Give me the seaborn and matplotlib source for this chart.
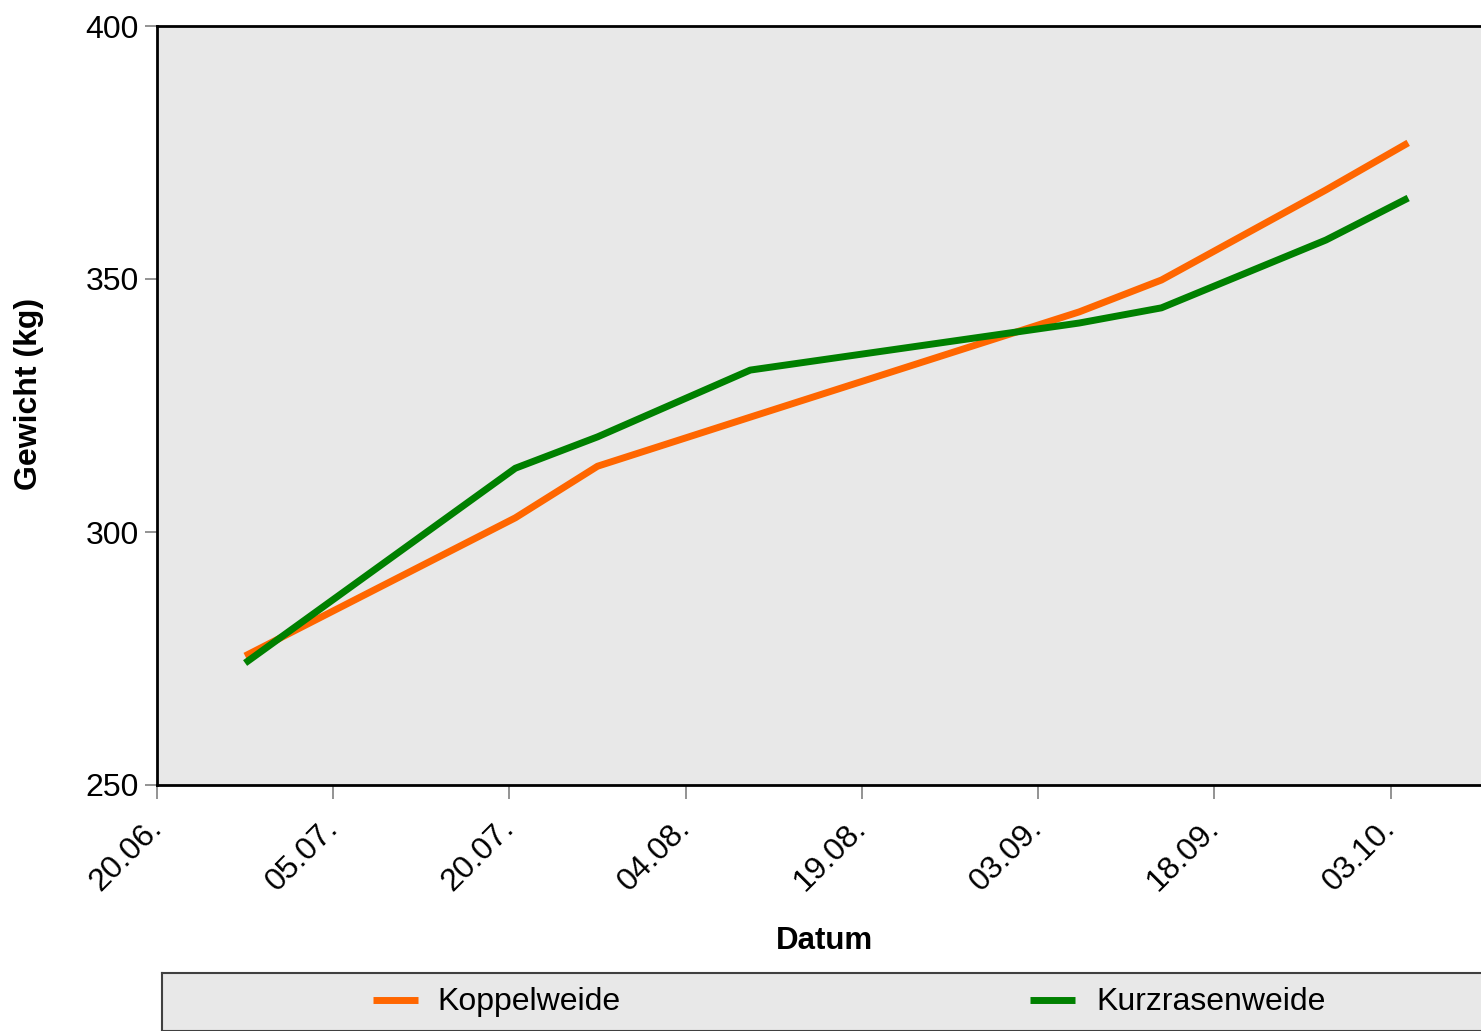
## weight gain chart: Koppelweide vs Kurzrasenweide

import matplotlib.pyplot as plt
import seaborn as sns
import pandas as pd

    #----------------------------------------------------
    # DATA
    #----------------------------------------------------

datum = ["2005-06-27", "2005-07-20", "2005-07-27", "2005-08-09",
         "2005-09-06", "2005-09-13", "2005-09-27", "2005-10-04"]
koppelweide = [275.5, 302.8, 313.0, 322.7, 343.5, 349.8, 367.6, 376.9]
kurzrasenweide = [274.1, 312.6, 318.8, 332.0, 341.3, 344.3, 357.7, 366.0]
tick_labels = ["20.06.", "05.07.", "20.07.", "04.08.",
               "19.08.", "03.09.", "18.09.", "03.10."]

    #----------------------------------------------------
    # PLOT
    #----------------------------------------------------

def main():
    sns.set_style("white")
    plt.rcParams['font.family'] = ['Liberation Sans', 'DejaVu Sans']
    plt.rcParams['text.color'] = 'black'
    plt.rcParams['axes.labelcolor'] = 'black'
    plt.rcParams['xtick.color'] = 'black'
    plt.rcParams['ytick.color'] = 'black'

    dates = pd.to_datetime(datum)
    df = pd.DataFrame({
        "Datum": list(dates) * 2,
        "Gewicht": koppelweide + kurzrasenweide,
        "Gruppe": ["Koppelweide"] * len(datum) + ["Kurzrasenweide"] * len(datum),
    })

    my_fig = plt.figure(figsize=(14.81, 10.31), dpi=100)
    ax = my_fig.add_axes([157/1481, 1 - 785/1031, 1324/1481, 759/1031])
    ax.set_facecolor("#E8E8E8")

    sns.lineplot(data=df, x="Datum", y="Gewicht", hue="Gruppe",
                 palette={"Koppelweide": "#FF6600", "Kurzrasenweide": "#008000"},
                 linewidth=5, ax=ax, legend=False, solid_capstyle="butt")

    # excel date axis: ticks at day start, points at mid day
    half = pd.Timedelta(hours=12)
    start = pd.Timestamp("2005-06-20")
    ticks = [start + pd.Timedelta(days=15 * i) - half for i in range(len(tick_labels))]
    ax.set_xticks(ticks)
    ax.set_xticklabels(tick_labels, rotation=45, ha="right", va="center",
                       rotation_mode="anchor", fontsize=23)
    ax.set_xlim(start - half, start + pd.Timedelta(days=112.2))

    ax.set_ylim(250, 400)
    ax.set_yticks([250, 300, 350, 400])
    ax.tick_params(axis="y", labelsize=23, length=9, width=1.2, color="#808080",
                   direction="out", left=True, pad=4)
    ax.tick_params(axis="x", length=10, width=1.2, color="#808080",
                   direction="out", bottom=True, pad=18)

    for side in ["left", "top", "bottom"]:
        ax.spines[side].set_visible(True)
        ax.spines[side].set_color("black")
        ax.spines[side].set_linewidth(2)
    ax.spines["right"].set_visible(False)

    ax.set_xlabel("Datum", fontsize=22.5, fontweight="bold")
    ax.set_ylabel("Gewicht (kg)", fontsize=23, fontweight="bold")
    ax.xaxis.set_label_coords((824 - 157) / 1324, -(926 - 785) / 759)
    ax.yaxis.set_label_coords(-(157 - 44) / 1324, (785 - 394) / 759)

    # legend box at the bottom
    leg_ax = my_fig.add_axes([162/1481, 0, 1330/1481, 58/1031])
    leg_ax.set_facecolor("#E8E8E8")
    leg_ax.set_xticks([])
    leg_ax.set_yticks([])
    for side in leg_ax.spines.values():
        side.set_color("#404040")
        side.set_linewidth(1.5)
    leg_ax.set_xlim(162, 1492)
    leg_ax.set_ylim(1031, 973)
    leg_ax.plot([373, 418], [1000, 1000], color="#FF6600", linewidth=5,
                solid_capstyle="butt")
    leg_ax.text(437, 1002, "Koppelweide", fontsize=23, va="center", ha="left")
    leg_ax.plot([1030, 1075], [1000, 1000], color="#008000", linewidth=5,
                solid_capstyle="butt")
    leg_ax.text(1096, 1002, "Kurzrasenweide", fontsize=23, va="center", ha="left")

    my_fig.savefig("out.png", dpi=100)


if __name__ == '__main__':
    main()
